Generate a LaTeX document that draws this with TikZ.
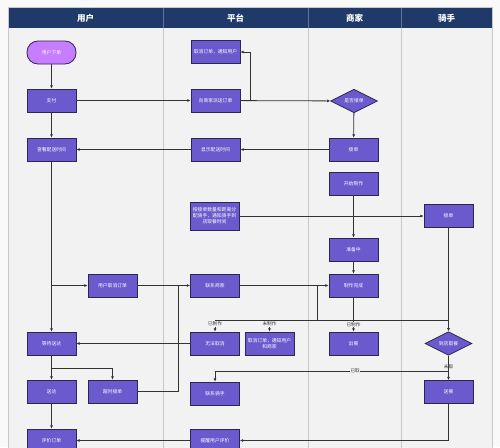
\documentclass[tikz,border=0pt]{standalone}
\usepackage{fontspec}
\newfontfamily\cjk{Noto Sans CJK SC}
\usetikzlibrary{shapes.geometric,arrows.meta}
\definecolor{bgc}{HTML}{F2F2F2}
\definecolor{hdr}{HTML}{1F3A68}
\definecolor{boxc}{HTML}{6A5ACD}
\definecolor{boxb}{HTML}{2A2850}
\definecolor{startc}{HTML}{C77DFF}
\definecolor{lanec}{HTML}{C8C8C8}
\definecolor{linec}{HTML}{333333}
\tikzset{
  proc/.style={rectangle, draw=boxb, fill=boxc, line width=0.8pt, minimum width=49pt, minimum height=23pt, inner sep=1pt, text=white, align=center, font=\cjk\fontsize{4.8}{6}\selectfont},
  startbox/.style={proc, fill=startc, rounded corners=11pt, draw=boxb},
  decide/.style={diamond, draw=boxb, fill=boxc, line width=0.8pt, minimum width=47pt, minimum height=23pt, inner sep=0pt, text=white, font=\cjk\fontsize{4.8}{6}\selectfont},
  arr/.style={draw=linec, line width=0.8pt, -{Latex[length=3.2pt,width=3pt]}},
  conn/.style={draw=linec, line width=0.8pt},
  lab/.style={fill=bgc, inner sep=0.6pt, text=linec, font=\cjk\fontsize{4.6}{5}\selectfont},
  hdrtext/.style={text=white, font=\cjk\bfseries\fontsize{8.5}{10}\selectfont}
}
\begin{document}
\begin{tikzpicture}[x=1pt,y=-1pt]
\useasboundingbox (0,0) rectangle (500,447);
\clip (0,0) rectangle (500,447);
\fill[white!50!bgc] (0,0) rectangle (500,447);
% frame and lanes
\fill[bgc] (8,7.5) rectangle (492,470);
\fill[hdr] (8,7.5) rectangle (492,28);
\draw[lanec, line width=0.6pt] (8,7.5) rectangle (492,470);
\foreach \xx in {163,308,401} {
  \draw[lanec, line width=0.6pt] (\xx,28) -- (\xx,470);
  \draw[hdr!70!white, line width=0.4pt] (\xx,7.5) -- (\xx,28);
}
\node[hdrtext] (h1) at (85.5,18) {用户};
\node[hdrtext] (h2) at (235.5,18) {平台};
\node[hdrtext] (h3) at (354.5,18) {商家};
\node[hdrtext] (h4) at (446.5,18) {骑手};
% user lane
\node[startbox] (u1) at (51.5,52.5) {用户下单};
\node[proc] (u2) at (51.5,100.5) {支付};
\node[proc] (u3) at (51.5,149.5) {查看配送时间};
\node[proc] (u4) at (112.5,285.5) {用户取消订单};
\node[proc] (u5) at (51.5,343.5) {等待送达};
\node[proc] (u6) at (51.5,391.5) {送达};
\node[proc] (u7) at (112.5,391.5) {超时接单};
\node[proc] (u8) at (51.5,440.5) {评价订单};
% platform lane
\node[proc] (p1) at (215.5,52) {取消订单，通知用户};
\node[proc] (p2) at (215.5,100.5) {向商家派送订单};
\node[proc] (p3) at (215.5,149.5) {显示配送时间};
\node[proc, minimum height=28pt] (p4) at (214.5,216) {按接单数量和距离分\\配骑手，通知骑手到\\店取餐时间};
\node[proc] (p5) at (215,285.5) {联系商家};
\node[proc] (p6) at (215,343.5) {无法取消};
\node[proc] (p7) at (269.5,343.5) {取消订单，通知用户\\和商家};
\node[proc] (p8) at (215,393.5) {联系骑手};
\node[proc] (p9) at (215,440.5) {提醒用户评价};
% merchant lane
\node[decide] (m1) at (354,101) {是否接单};
\node[proc] (m2) at (353.5,149.5) {接单};
\node[proc] (m3) at (353.5,183.5) {开始制作};
\node[proc] (m4) at (353.5,249.5) {准备中};
\node[proc] (m5) at (353.5,285.5) {制作完成};
\node[proc] (m6) at (353.5,343.5) {出餐};
% rider lane
\node[proc] (r1) at (448.5,215.5) {接单};
\node[decide] (r2) at (448.5,343.5) {到店取餐};
\node[proc] (r3) at (448.5,392) {送餐};
% junction coordinates
\coordinate (jA) at (250,101);
\coordinate (jB) at (317,285.5);
\coordinate (jC) at (317,320);
\coordinate (jL) at (215,320);
\coordinate (jM) at (269.5,320);
\coordinate (jR) at (448.5,320);
\coordinate (jD) at (51.5,368);
\coordinate (jE) at (178,285.5);
\coordinate (jF) at (448.5,371);
% connectors
\draw[arr] (u1) -- (u2);
\draw[arr] (u2) -- (p2);
\draw[arr] (p2) -- (m1);
\draw[arr] (jA) |- (p1.east);
\draw[arr] (m1) -- (m2);
\draw[arr] (m2) -- (p3);
\draw[arr] (p3) -- (u3);
\draw[arr] (u2) -- (u3);
\draw[arr] (p4.east) -- (p4.east -| r1.west);
\draw[arr] (m3) -- (m4);
\draw[arr] (m4) -- (m5);
\draw[arr] (u3) -- (u5);
\draw[arr] (u3.south |- u4) -- (u4);
\draw[arr] (u4) -- (p5);
\draw[arr] (p5) -- (m5);
\draw[conn] (jB) -- (jC);
\draw[conn] (jL) -- (jR);
\draw[arr] (jL) -- node[lab, pos=0.35] {已制作} (p6);
\draw[arr] (jM) -- node[lab, pos=0.35] {未制作} (p7);
\draw[arr] (m5) -- node[lab, pos=0.8] {已制作} (m6);
\draw[arr] (r1) -- (r2);
\draw[arr] (p6) -- (u5);
\draw[arr] (u5) -- (u6);
\draw[arr] (jD) -| (u7.north);
\draw[conn] (u7.east) -| (jE);
\draw[arr] (u6) -- (u8);
\draw[arr] (p9) -- (u8);
\draw[arr] (r3.south) |- (p9.east);
\draw[arr] (r2) -- (r3);
\node[lab, fill=none] (l1) at (448.5,367) {未取};
\draw[arr] (jF) -| node[lab, pos=0.2] {已取} (p8.north);
\end{tikzpicture}
\end{document}
